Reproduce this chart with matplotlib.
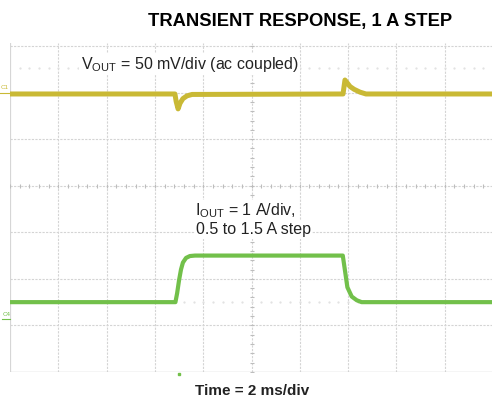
import numpy as np
import matplotlib
matplotlib.use("Agg")
import matplotlib.pyplot as plt

plt.rcParams["font.family"] = ["Liberation Sans", "DejaVu Sans"]
plt.rcParams["mathtext.fontset"] = "custom"
plt.rcParams["mathtext.rm"] = "Liberation Sans"
plt.rcParams["mathtext.it"] = "Liberation Sans"

# Scope settings
time_per_div = 2.0      # ms/div
vout_per_div = 50.0     # mV/div
iout_per_div = 1.0      # A/div
vout_pos = 5.97         # trace position on screen (div)
iout_pos = 1.0

# VOUT trace (ac coupled deviation, mV) vs time (ms)
vout_t = [0, 6.83, 6.88, 6.96, 7.04, 7.16, 7.33, 7.54,
          13.79, 13.87, 13.96, 14.08, 14.25, 14.49, 14.74, 20]
vout_mv = [0, 0, -8, -16, -10, -5, -2, -0.5,
           0, 15, 12, 8, 5, 2, 0, 0]

# IOUT trace (A) vs time (ms)
iout_t = [0, 6.85, 6.92, 7.00, 7.08, 7.16, 7.29, 7.45, 7.66,
          13.78, 13.87, 13.97, 14.15, 14.36, 14.56, 20]
iout_a = [0.5, 0.5, 0.69, 0.97, 1.2, 1.35, 1.45, 1.49, 1.5,
          1.5, 1.18, 0.82, 0.62, 0.54, 0.5, 0.5]

trigger_t = 7.0

yellow = "#C9B935"
green = "#72C04A"
grid_c = "#d4d4d4"

fig = plt.figure(figsize=(4.92, 4.0), dpi=100)
ax = fig.add_axes([10 / 492, 28 / 400, 483 / 492, 7.07 * 46.57 / 400])
ax.set_xlim(0, 10 * time_per_div)
ax.set_ylim(0, 7.07)
for s in ax.spines.values():
    s.set_visible(False)
ax.set_xticks([])
ax.set_yticks([])

# graticule
for i in range(1, 11):
    ax.axvline(i * time_per_div, color=grid_c, lw=0.8, dashes=(2, 1.2), zorder=1)
for j in range(1, 8):
    ax.axhline(j, color=grid_c, lw=0.8, dashes=(2, 1.2), zorder=1)
ax.axvline(0, color="#d6d6d6", lw=1.6, zorder=1)
ax.axhline(0, color="#cccccc", lw=1.0, zorder=1)

# center cross minor ticks
minor_t = np.arange(0, 20.01, time_per_div / 5)
ax.plot(minor_t, np.full(len(minor_t), 4.0), ls="none", marker="|",
        ms=3.5, mew=0.8, color="#bdbdbd", zorder=1)
minor_d = np.arange(0, 7.01, 0.2)
ax.plot(np.full(len(minor_d), 10.0), minor_d, ls="none", marker="_",
        ms=3.5, mew=0.8, color="#bdbdbd", zorder=1)

# dotted reference levels
dots_t = np.arange(0.4, 20, 0.4)
for lvl in [6.52, 1.51]:
    ax.plot(dots_t, np.full(len(dots_t), lvl), ls="none", marker=".",
            ms=1.2, color="#e0e0e0", zorder=1)

# traces
ax.plot(vout_t, vout_pos + np.array(vout_mv) / vout_per_div,
        color=yellow, lw=3.6, solid_joinstyle="round", zorder=3)
ax.plot(iout_t, iout_pos + np.array(iout_a) / iout_per_div,
        color=green, lw=3.0, solid_joinstyle="round", zorder=3)

# channel markers
ax.text(-0.38, vout_pos + 0.08, "C1", fontsize=4.5, color=yellow,
        ha="left", va="bottom", clip_on=False)
ax.plot([-0.42, -0.02], [vout_pos + 0.03] * 2, color=yellow, lw=0.8, clip_on=False)
ax.text(-0.3, 1.18, "C4", fontsize=4.5, color=green,
        ha="left", va="bottom", clip_on=False)
ax.plot([-0.34, -0.02], [1.13] * 2, color=green, lw=0.8, clip_on=False)
ax.plot([trigger_t], [-0.05], marker="s", ms=1.5, color=green,
        clip_on=False, ls="none")

# annotations
bb = dict(facecolor="white", edgecolor="none", pad=1.0)
ax.text(2.92, 6.51, r"V$_{\mathregular{OUT}}$ = 50 mV/div (ac coupled)", fontsize=11.5,
        color="#222222", ha="left", va="baseline", bbox=bb, zorder=4)
ax.text(7.68, 3.37, r"I$_{\mathregular{OUT}}$ = 1 A/div,", fontsize=11.5,
        color="#222222", ha="left", va="baseline", bbox=bb, zorder=4)
ax.text(7.70, 2.96, "0.5 to 1.5 A step", fontsize=11.5,
        color="#222222", ha="left", va="baseline", bbox=bb, zorder=4)

fig.text(300 / 492, 1 - 26 / 400, "TRANSIENT RESPONSE, 1 A STEP",
         fontsize=13.2, fontweight="bold", ha="center", va="baseline")
fig.text(252.5 / 492, 1 - 395 / 400, "Time = 2 ms/div",
         fontsize=11, fontweight="bold", ha="center", va="baseline", color="#222222")

fig.savefig("out.png", dpi=100)
